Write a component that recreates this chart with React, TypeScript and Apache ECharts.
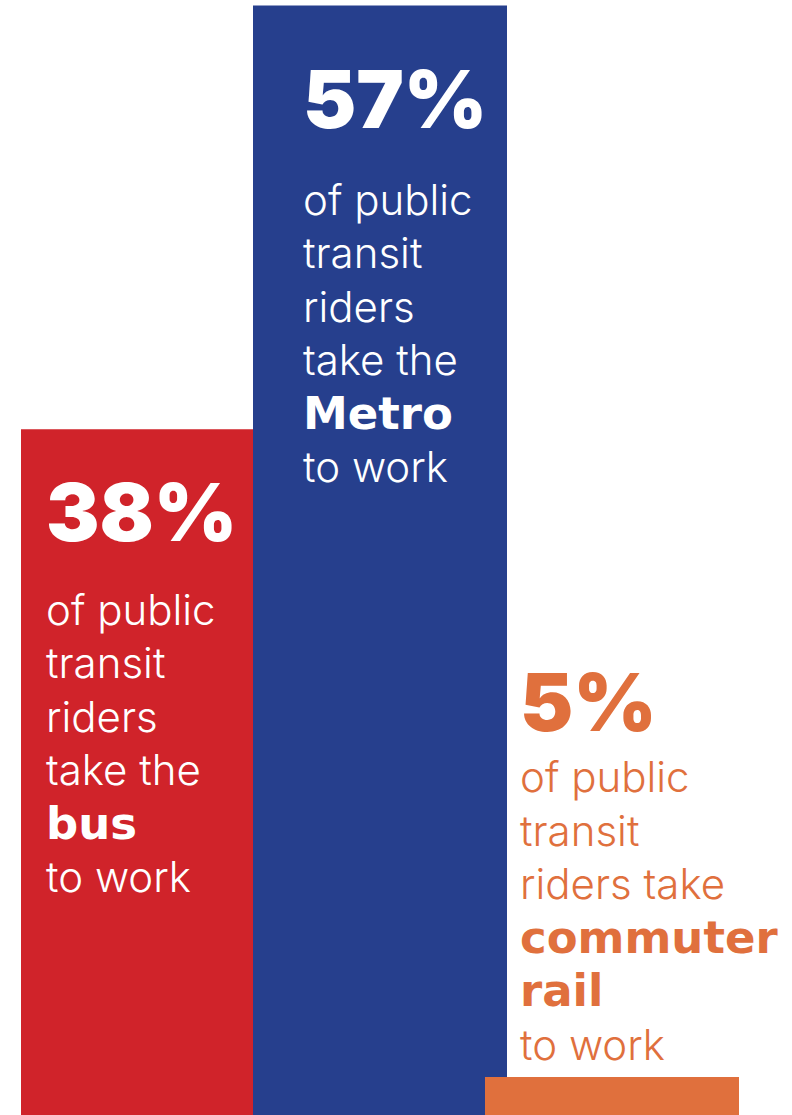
import React, { useEffect, useRef } from "react";
import * as echarts from "echarts";

// Transit modes and the share of public transit riders using each one
const categories = ["bus", "Metro", "commuter rail"];
const shares = [38, 57, 5];
// Drawn bar heights (percent of the chart's height)
const barHeights = [61.5, 99.5, 3.4];
const introLines = [
  ["of public", "transit", "riders", "take the"],
  ["of public", "transit", "riders", "take the"],
  ["of public", "transit", "riders take"],
];
const boldLines = [["bus"], ["Metro"], ["commuter", "rail"]];
const outroLine = "to work";

const colors = ["#d0232a", "#263f8d", "#e0703d"];
const textColors = ["#ffffff", "#ffffff", "#e0703d"];
const labelPos = [
  [25, 11],
  [50, 19],
  [35, -425],
];
const bigLineHeights = [142, 148, 98];

export default function App() {
  const ref = useRef<HTMLDivElement>(null);
  useEffect(() => {
    document.body.style.margin = "0";
    const chart = echarts.init(ref.current!, null, { renderer: "svg" });
    const FONT = "Inter, 'Noto Sans', sans-serif";
    const BOLD = "'DejaVu Sans', Inter, sans-serif";
    const data = barHeights.map((h, i) => {
      const lines = [
        `{big|${shares[i]}%}`,
        ...introLines[i].map((l) => `{t|${l}}`),
        ...boldLines[i].map((l) => `{b|${l}}`),
        `{t|${outroLine}}`,
      ];
      return {
        value: h,
        name: categories[i],
        itemStyle: { color: colors[i] },
        label: {
          show: true,
          position: labelPos[i],
          align: "left",
          verticalAlign: "top",
          formatter: lines.join("\n"),
          rich: {
            big: {
              fontFamily: FONT,
              fontSize: 80,
              fontWeight: 900,
              color: textColors[i],
              lineHeight: bigLineHeights[i],
            },
            t: {
              fontFamily: FONT,
              fontSize: 42,
              fontWeight: 300,
              color: textColors[i],
              lineHeight: 53.5,
            },
            b: {
              fontFamily: BOLD,
              fontSize: 45,
              fontWeight: "bold",
              color: textColors[i],
              lineHeight: 53.5,
            },
          },
        },
      };
    });
    chart.setOption({
      animation: false,
      grid: { left: 32, right: 64, top: 0, bottom: 0, containLabel: false },
      xAxis: {
        type: "category",
        data: categories,
        show: false,
      },
      yAxis: {
        type: "value",
        min: 0,
        max: 100,
        show: false,
        splitLine: { show: false },
      },
      series: [
        {
          type: "bar",
          data,
          barWidth: 254,
          clip: false,
          label: { show: true },
        },
      ],
    });
    return () => chart.dispose();
  }, []);
  return <div ref={ref} style={{ width: 792, height: 1115 }} />;
}
